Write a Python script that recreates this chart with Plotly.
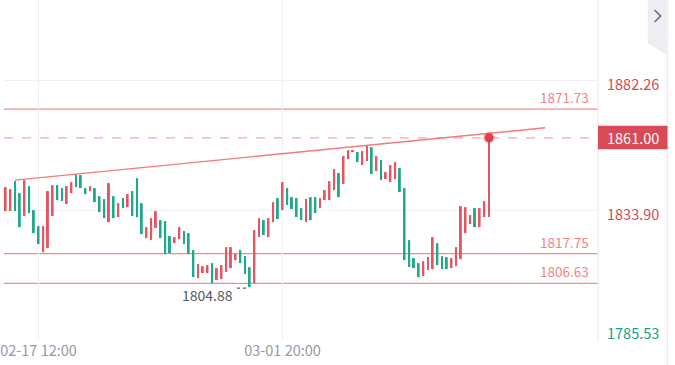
import plotly.graph_objects as go

# ---- data ----
opens = [1833.63, 1833.63, 1844.83, 1840.35, 1831.77, 1842.96, 1834.01, 1828.04, 1818.33, 1819.83,
         1831.77, 1843.34, 1842.22, 1836.25, 1840.35, 1847.44, 1847.07, 1842.22, 1841.10, 1842.22,
         1839.23, 1838.11, 1829.53, 1839.23, 1831.40, 1838.49, 1835.13, 1841.10, 1845.95, 1836.62,
         1823.56, 1822.81, 1827.29, 1830.28, 1829.90, 1824.30, 1821.69, 1823.19, 1826.17, 1825.42,
         1819.08, 1808.63, 1810.50, 1810.50, 1814.23, 1807.88, 1808.26, 1810.87, 1812.36, 1815.35,
         1819.08, 1816.84, 1812.74, 1806.76, 1823.93, 1830.28, 1823.93, 1829.53, 1838.49, 1834.01,
         1842.22, 1838.86, 1838.49, 1834.75, 1829.53, 1838.86, 1838.86, 1834.75, 1837.74, 1837.74,
         1841.47, 1847.82, 1843.71, 1853.04, 1856.03, 1855.65, 1850.80, 1852.29, 1857.52, 1848.56,
         1852.67, 1845.58, 1844.46, 1845.58, 1849.68, 1842.22, 1822.81, 1816.09, 1814.23, 1809.38,
         1811.62, 1811.99, 1821.69, 1816.84, 1816.47, 1812.36, 1813.11, 1815.72, 1825.42, 1828.78,
         1834.75, 1827.66, 1831.40, 1831.40]
closes = [1842.59, 1841.85, 1833.63, 1827.66, 1845.20, 1832.89, 1825.42, 1821.32, 1828.04, 1841.10,
          1843.34, 1837.74, 1837.37, 1842.96, 1844.46, 1842.59, 1842.22, 1839.98, 1842.96, 1836.99,
          1833.26, 1831.02, 1844.08, 1831.02, 1836.62, 1834.75, 1839.98, 1831.77, 1831.40, 1825.05,
          1827.66, 1831.02, 1833.63, 1823.56, 1817.59, 1817.96, 1823.93, 1827.66, 1821.32, 1817.59,
          1809.00, 1813.86, 1813.11, 1813.48, 1806.76, 1812.36, 1813.48, 1820.20, 1820.20, 1817.59,
          1814.23, 1810.12, 1805.27, 1826.54, 1831.02, 1824.68, 1831.02, 1836.99, 1830.65, 1844.46,
          1835.87, 1834.38, 1831.40, 1830.28, 1838.11, 1830.28, 1832.89, 1838.49, 1841.47, 1844.83,
          1849.31, 1838.86, 1854.16, 1856.40, 1856.40, 1851.92, 1856.03, 1858.27, 1847.44, 1854.16,
          1845.20, 1848.19, 1850.80, 1851.92, 1840.73, 1815.35, 1812.74, 1812.36, 1809.00, 1814.97,
          1816.47, 1823.93, 1813.48, 1811.99, 1811.99, 1816.09, 1820.20, 1835.50, 1835.13, 1832.14,
          1827.66, 1834.75, 1837.37, 1861.00]

x_tick_pos = [7, 59]
x_tick_labels = ["02-17 12:00", "03-01 20:00"]
y_tick_vals = [1882.26, 1833.90, 1785.53]
y_tick_labels = ["1882.26", "1833.90", "1785.53"]
level_vals = [1871.73, 1817.75, 1806.63]
level_labels = ["1871.73", "1817.75", "1806.63"]
last_price = 1861.00
last_label = "1861.00"
low_value = 1804.88
low_label = "1804.88"
low_index = 52
trend_x = [2, 115]
trend_y = [1845.20, 1864.72]

RED = "#e35662"
GREEN = "#1fa98a"
FONT = "Noto Sans CJK SC"

idx = list(range(len(opens)))
up_x, up_b, up_h, dn_x, dn_b, dn_h = [], [], [], [], [], []
for i, o, c in zip(idx, opens, closes):
    lo, hi = min(o, c), max(o, c)
    h = max(hi - lo, 0.35)
    if c >= o:
        up_x.append(i); up_b.append(lo); up_h.append(h)
    else:
        dn_x.append(i); dn_b.append(lo); dn_h.append(h)

fig = go.Figure()
fig.add_trace(go.Bar(x=up_x, y=up_h, base=up_b, width=0.42, marker=dict(color=RED, line=dict(width=0)),
                     hoverinfo="skip", showlegend=False))
fig.add_trace(go.Bar(x=dn_x, y=dn_h, base=dn_b, width=0.42, marker=dict(color=GREEN, line=dict(width=0)),
                     hoverinfo="skip", showlegend=False))
fig.add_trace(go.Scatter(x=trend_x, y=trend_y, mode="lines", line=dict(color="#f47a7d", width=1.4),
                         hoverinfo="skip", showlegend=False))
fig.add_trace(go.Scatter(x=[idx[-1]], y=[last_price], mode="markers",
                         marker=dict(size=9, color="#e0404e", line=dict(width=3, color="rgba(224,64,78,0.25)")),
                         hoverinfo="skip", showlegend=False))

shapes = []
for v in level_vals:
    shapes.append(dict(type="line", xref="paper", x0=0, x1=1, yref="y", y0=v, y1=v,
                       line=dict(color="#f58a8c", width=1.3), layer="below"))
shapes.append(dict(type="line", xref="paper", x0=0, x1=1, yref="y", y0=last_price, y1=last_price,
                   line=dict(color="#f5a9ab", width=1.2, dash="dash"), layer="below"))
# low marker dotted leader
shapes.append(dict(type="line", xref="x", x0=low_index - 2.7, x1=low_index - 0.2, yref="y",
                   y0=low_value, y1=low_value, line=dict(color="#5a5f70", width=1.2, dash="dot")))
# axis separators
shapes.append(dict(type="line", xref="paper", x0=1, x1=1, yref="paper", y0=-0.006, y1=1,
                   line=dict(color="#ececf1", width=1.2)))
shapes.append(dict(type="line", xref="paper", x0=668 / 598, x1=668 / 598, yref="paper", y0=-0.08, y1=1,
                   line=dict(color="#ececf1", width=1.2)))
# current price box
shapes.append(dict(type="rect", xref="paper", x0=1.0, x1=668 / 598, yref="y", ysizemode="pixel",
                   yanchor=last_price, y0=-11.5, y1=12, fillcolor="#d94a57", line=dict(width=0)))
# collapse tab
shapes.append(dict(type="path", xref="paper", yref="paper",
                   path=f"M {648/598},1 L {667/598},1 L {667/598},{1-55/340} L {648/598},{1-43/340} Z",
                   fillcolor="#eeeef2", line=dict(width=0)))
shapes.append(dict(type="path", xref="paper", yref="paper",
                   path=f"M {655/598},{1-10/340} L {661/598},{1-16/340} L {655/598},{1-22/340}",
                   line=dict(color="#6a6d7e", width=1.6)))

annotations = []
for v, t in zip(level_vals, level_labels):
    annotations.append(dict(xref="paper", x=591 / 598, xanchor="right", yref="y", y=v, yanchor="bottom",
                            yshift=0, text=t, showarrow=False, font=dict(family=FONT, size=13.5, color="#f08588")))
ycolors = ["#d9474f", "#d9474f", "#14a383"]
yshifts = [-3, -3, 8]
for v, t, c, s in zip(y_tick_vals, y_tick_labels, ycolors, yshifts):
    annotations.append(dict(xref="paper", x=605 / 598, xanchor="left", yref="y", y=v, yanchor="middle",
                            yshift=s, text=t, showarrow=False, font=dict(family=FONT, size=14.5, color=c)))
annotations.append(dict(xref="paper", x=633 / 598, xanchor="center", yref="y", y=last_price, yanchor="middle",
                        yshift=0, text=last_label, showarrow=False,
                        font=dict(family=FONT, size=14.5, color="#ffffff")))
annotations.append(dict(xref="x", x=low_index - 3.1, xanchor="right", yref="y", y=low_value, yanchor="middle",
                        yshift=-7, text=low_label, showarrow=False, font=dict(family=FONT, size=14, color="#555a6b")))

fig.update_layout(
    width=675, height=365,
    margin=dict(l=0, r=77, t=0, b=25),
    paper_bgcolor="#ffffff", plot_bgcolor="#ffffff",
    barmode="overlay", showlegend=False,
    xaxis=dict(range=[-0.36, 126.23], tickmode="array", tickvals=x_tick_pos, ticktext=x_tick_labels,
               showgrid=True, gridcolor="#f0f0f4", gridwidth=1, zeroline=False, showline=False,
               ticks="", ticklabeloverflow="allow",
               tickfont=dict(family=FONT, size=14.5, color="#9598aa"), fixedrange=True),
    yaxis=dict(range=[1785.53, 1912.42], tickmode="array", tickvals=y_tick_vals, showticklabels=False,
               showgrid=True, gridcolor="#f0f0f4", gridwidth=1, zeroline=False, showline=False,
               ticks="", fixedrange=True),
    shapes=shapes, annotations=annotations,
)

fig.write_html("out.html", config={"displayModeBar": False},
               post_script="document.body.style.margin='0';document.body.style.padding='0';")
